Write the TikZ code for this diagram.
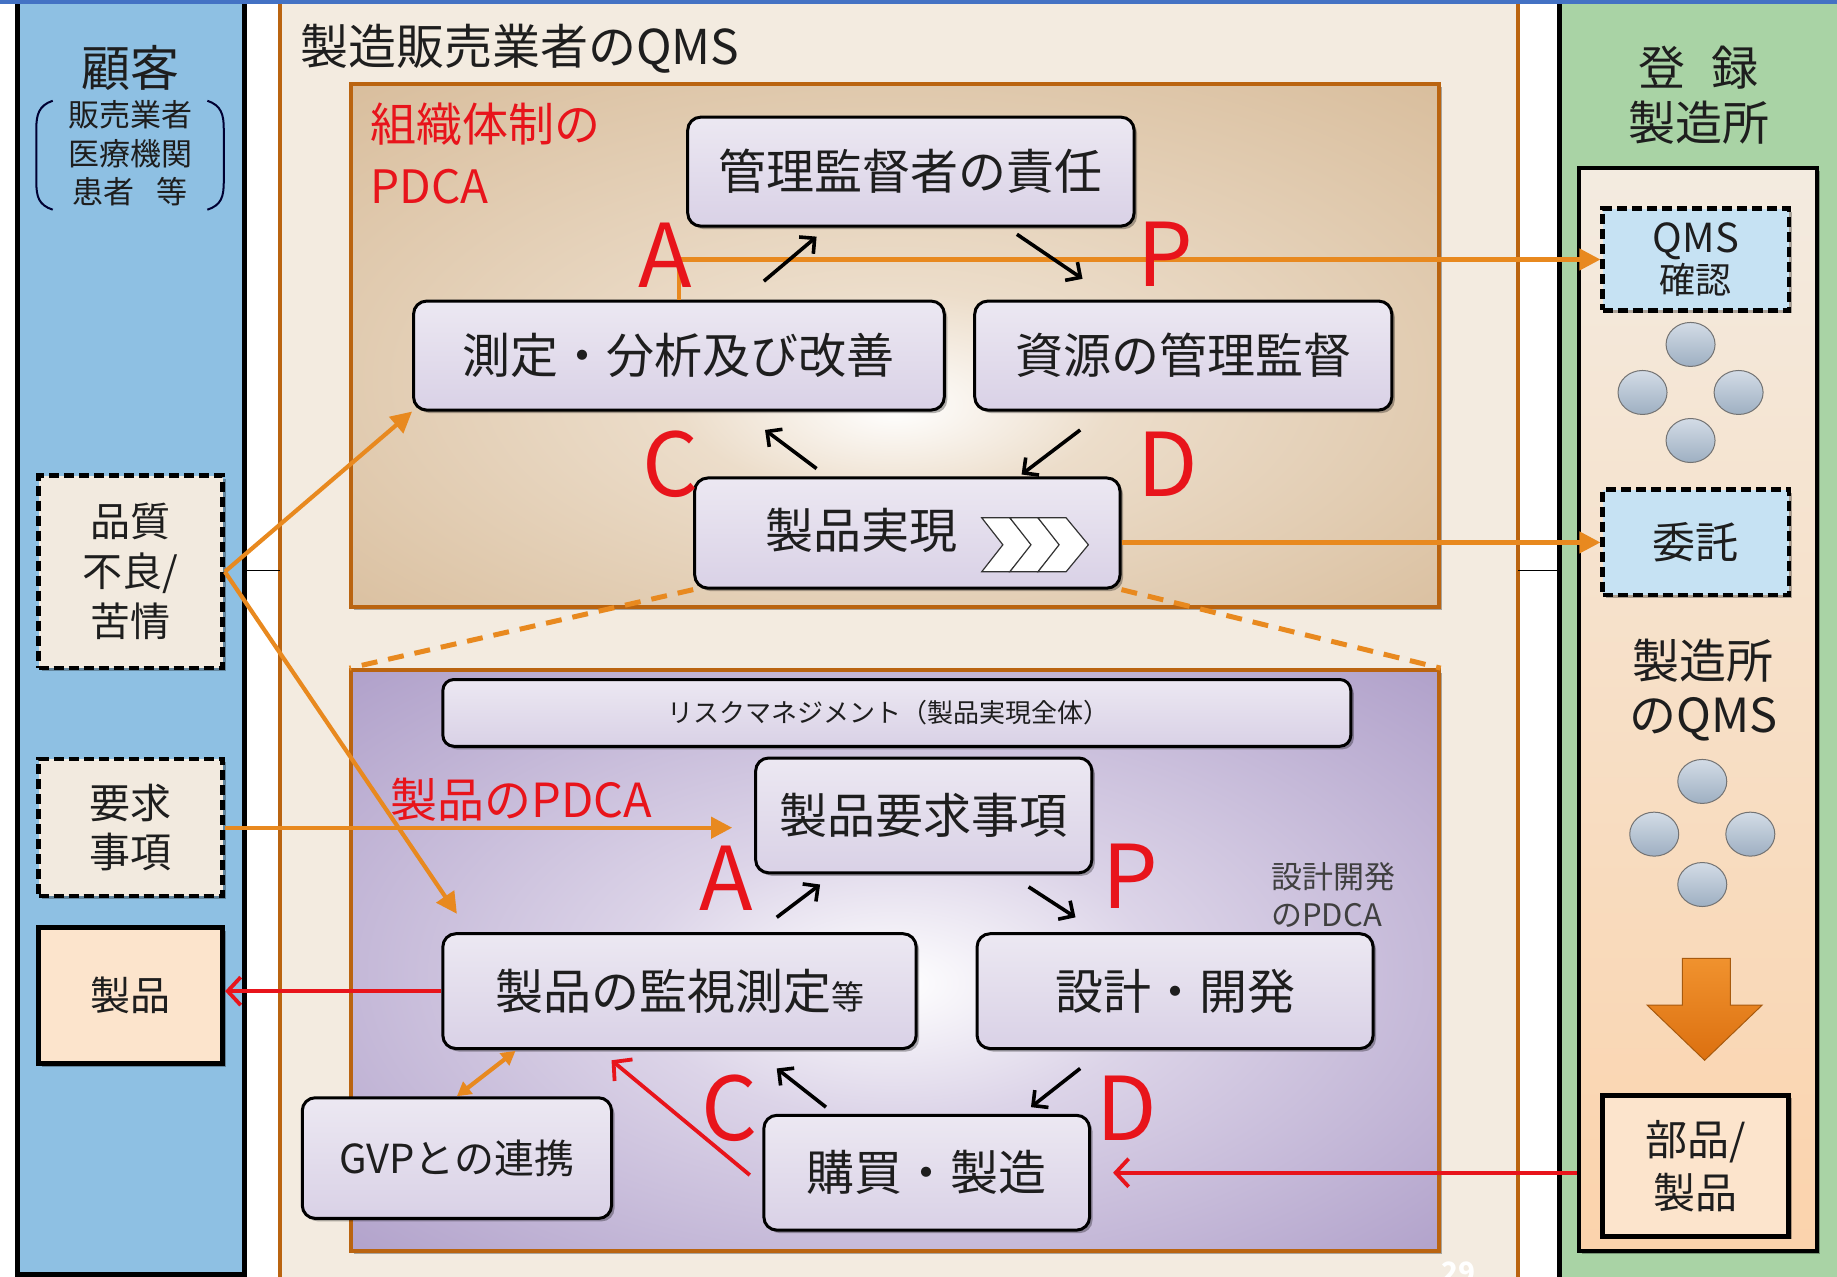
\documentclass[tikz,border=0pt]{standalone}
\usepackage{fontspec}
\setmainfont{Noto Sans CJK JP}
\usetikzlibrary{arrows.meta,fit,shadows,shapes.geometric,calc}

\definecolor{topbar}{HTML}{4472C4}
\definecolor{custblue}{HTML}{8EC0E3}
\definecolor{mfrfill}{HTML}{F3EBE0}
\definecolor{orB}{HTML}{BA6410}
\definecolor{tanc}{HTML}{CFAE86}
\definecolor{tanmid}{HTML}{ECDDCA}
\definecolor{purc}{HTML}{9682B8}
\definecolor{purmid}{HTML}{DCD4E8}
\definecolor{greenc}{HTML}{A9D3A5}
\definecolor{lblue}{HTML}{C6E2F3}
\definecolor{cream}{HTML}{F2EADF}
\definecolor{peach}{HTML}{FCE4CC}
\definecolor{arrowor}{HTML}{E8891F}
\definecolor{redc}{HTML}{E8141B}
\definecolor{boxtop}{HTML}{ECE8F2}
\definecolor{boxbot}{HTML}{D9D1E6}
\definecolor{txt}{HTML}{1E1E1E}
\definecolor{circtop}{HTML}{D3DCE6}
\definecolor{circbot}{HTML}{9EAFC2}
\definecolor{rbtop}{HTML}{F3EBE0}
\definecolor{rbbot}{HTML}{FBD3AC}
\definecolor{bigartop}{HTML}{F0922E}
\definecolor{bigarbot}{HTML}{DC7010}

\pgfdeclareradialshading{tanrad}{\pgfpoint{0bp}{-6bp}}{color(0bp)=(white); color(10bp)=(tanmid); color(50bp)=(tanc)}
\pgfdeclareradialshading{purrad}{\pgfpoint{0bp}{-2bp}}{color(0bp)=(white); color(12bp)=(purmid); color(50bp)=(purc)}

\begin{document}
\begin{tikzpicture}[x=1.1716pt,y=-1.1716pt,
  shad/.style={drop shadow={shadow xshift=3pt, shadow yshift=-3pt, opacity=0.3, fill=black}},
  pbox/.style={draw=black, line width=3pt, rounded corners=13pt, top color=boxtop, bottom color=boxbot, inner sep=0pt, shad},
  dbox/.style={draw=black, line width=4.5pt, dash pattern=on 10pt off 5pt, inner sep=0pt, shad},
  sbox/.style={draw=black, line width=5pt, fill=peach, inner sep=0pt, shad},
  oarrow/.style={draw=arrowor, line width=4.2pt, -{Triangle[length=21pt,width=21pt]}},
  orarrow2/.style={draw=arrowor, line width=4.2pt, {Triangle[length=14pt,width=15pt]}-{Triangle[length=14pt,width=15pt]}},
  rarrow/.style={draw=redc, line width=3.8pt, -{Straight Barb[length=13pt,width=28pt]}},
  barrow/.style={draw=black, line width=3.6pt, -{Straight Barb[length=11pt,width=22pt]}},
  letter/.style={text=redc, inner sep=0pt, font=\fontsize{88}{88}\selectfont},
  circ/.style={ellipse, draw=black!55, line width=1pt, top color=circtop, bottom color=circbot, minimum width=49pt, minimum height=44pt, inner sep=0pt},
  odash/.style={draw=arrowor, line width=5pt, dash pattern=on 16pt off 11pt},
  lbl/.style={text=txt, inner sep=0pt, align=center},
]
\useasboundingbox (0,0) rectangle (1568,1090);
\fill[white] (0,0) rectangle (1568,1090);

% ---------- panels ----------
\draw[line width=5pt, fill=custblue] (15,-10) rectangle (209,1087.5);
\draw[orB, line width=4pt, fill=mfrfill] (239,-10) rectangle (1296,1110);
\draw[line width=5pt, fill=greenc] (1331,-10) rectangle (1620,1110);
\node[draw=black, line width=4pt, top color=rbtop, bottom color=rbbot, inner sep=0pt, fit={(1348,143) (1551,1068)}, shad] (rbox) {};

% thin black links between panels
\draw[line width=1.5pt] (209,487) -- (239,487);
\draw[line width=1.5pt] (1296,487) -- (1331,487);

% ---------- big PDCA boxes ----------
\node[draw=orB, line width=4pt, shading=tanrad, inner sep=0pt, fit={(300,72) (1228,518)}, shad] (org) {};
\node[draw=orB, line width=4pt, shading=purrad, inner sep=0pt, fit={(300,572) (1228,1068)}, shad] (pbx) {};

% ---------- titles ----------
\node[lbl, font=\fontsize{49}{55}\selectfont] (kokyaku) at (111,58) {顧客};
\node[lbl, font=\fontsize{31}{38.5}\selectfont] (kokyaku2) at (111,131) {販売業者\\医療機関\\患者\hspace{0.7em}等};
\draw[line width=2pt, black!80!blue] (45,86) .. controls (33,90) and (31,98) .. (31,110) -- (31,155) .. controls (31,168) and (33,175) .. (45,179);
\draw[line width=2pt, black!80!blue] (177,86) .. controls (189,90) and (191,98) .. (191,110) -- (191,155) .. controls (191,168) and (189,175) .. (177,179);

\node[lbl, anchor=west, font=\fontsize{48}{48}\selectfont] (mfrtitle) at (256,42) {製造販売業者のQMS};
\node[lbl, font=\fontsize{47}{55}\selectfont] (toroku) at (1450,81.5) {登\hspace{0.55em}録\\製造所};
\node[lbl, font=\fontsize{47}{54}\selectfont] (mfgqms) at (1454,589) {製造所\\のQMS};

\node[text=redc, anchor=west, align=left, inner sep=0pt, font=\fontsize{46}{62}\selectfont] (orgtitle) at (316,131) {組織体制の\\PDCA};
\node[text=redc, anchor=west, inner sep=0pt, font=\fontsize{47}{47}\selectfont] (prodtitle) at (333,683) {製品のPDCA};
\node[text=txt!85, anchor=west, align=left, inner sep=0pt, font=\fontsize{31}{37.5}\selectfont] (devtitle) at (1085,764) {設計開発\\のPDCA};

% ---------- left nodes ----------
\node[dbox, fill=cream, fit={(33,406) (190,570)}] (qual) {};
\node[lbl, font=\fontsize{40}{50}\selectfont] (qual-t) at (qual.center) {品質\\不良/\\苦情};
\node[dbox, fill=cream, fit={(33,648) (190,765)}] (req) {};
\node[lbl, font=\fontsize{41}{49}\selectfont] (req-t) at (req.center) {要求\\事項};
\node[sbox, fit={(33,792) (190,908)}] (prod) {};
\node[lbl, font=\fontsize{40}{40}\selectfont] (prod-t) at (prod.center) {製品};

% ---------- right nodes ----------
\node[dbox, fill=lblue, fit={(1368,178) (1527,265)}] (qms) {};
\node[lbl, font=\fontsize{36}{41}\selectfont] (qms-t) at (qms.center) {{\fontsize{40}{41}\selectfont QMS}\\確認};
\node[dbox, fill=lblue, fit={(1368,418) (1527,508)}] (itaku) {};
\node[lbl, font=\fontsize{43}{43}\selectfont] (itaku-t) at (itaku.center) {委託};
\node[sbox, fit={(1368,935) (1527,1055)}] (parts) {};
\node[lbl, font=\fontsize{42}{53}\selectfont] (parts-t) at (parts.center) {部品/\\製品};

\node[circ] (c1) at (1443,294) {};
\node[circ] (c2) at (1402,335) {};
\node[circ] (c3) at (1484,335) {};
\node[circ] (c4) at (1443,376) {};
\node[circ] (c5) at (1453,667) {};
\node[circ] (c6) at (1412,712) {};
\node[circ] (c7) at (1494,712) {};
\node[circ] (c8) at (1453,755) {};

\draw[draw=orB!90!black, line width=1pt, top color=bigartop, bottom color=bigarbot]
  (1436,818) -- (1477,818) -- (1477,858) -- (1504,858) -- (1455,905) -- (1406,858) -- (1436,858) -- cycle;

% ---------- org PDCA nodes ----------
\node[pbox, fit={(587,100) (968,193)}] (mgmt) {};
\node[lbl, font=\fontsize{48}{48}\selectfont] (mgmt-t) at (mgmt.center) {管理監督者の責任};
\node[pbox, fit={(353,257) (806,350)}] (meas) {};
\node[lbl, font=\fontsize{48}{48}\selectfont] (meas-t) at (meas.center) {測定・分析及び改善};
\node[pbox, fit={(832,257) (1188,350)}] (res) {};
\node[lbl, font=\fontsize{48}{48}\selectfont] (res-t) at (res.center) {資源の管理監督};
\node[pbox, fit={(593,408) (956,502)}] (real) {};
\node[lbl, font=\fontsize{48}{48}\selectfont] (real-t) at (735,453) {製品実現};
\foreach \i in {0,1,2} {
  \draw[black!80, line width=1.2pt, fill=white]
    ({838+24*\i},442) -- ({862+24*\i},442) -- ({881+24*\i},465) -- ({862+24*\i},488) -- ({838+24*\i},488) -- ({856+24*\i},465) -- cycle;
}

% ---------- product PDCA nodes ----------
\node[pbox, rounded corners=11pt, fit={(378,580) (1153,637)}] (risk) {};
\node[lbl, font=\fontsize{26}{26}\selectfont] (risk-t) at ([xshift=-8pt]risk.center) {リスクマネジメント（製品実現全体）};
\node[pbox, fit={(645,647) (932,745)}] (preq) {};
\node[lbl, font=\fontsize{48}{48}\selectfont] (preq-t) at (preq.center) {製品要求事項};
\node[pbox, fit={(378,797) (782,895)}] (mon) {};
\node[lbl, font=\fontsize{48}{48}\selectfont] (mon-t) at (mon.center) {製品の監視測定{\fontsize{33}{33}\selectfont 等}};
\node[pbox, fit={(834,797) (1172,895)}] (dev) {};
\node[lbl, font=\fontsize{48}{48}\selectfont] (dev-t) at (dev.center) {設計・開発};
\node[pbox, fit={(652,952) (930,1050)}] (buy) {};
\node[lbl, font=\fontsize{48}{48}\selectfont] (buy-t) at (buy.center) {購買・製造};
\node[pbox, fit={(258,937) (522,1040)}] (gvp) {};
\node[lbl, font=\fontsize{40}{40}\selectfont] (gvp-t) at (gvp.center) {GVPとの連携};

% ---------- dashed zoom lines ----------
\draw[odash] (real.south west) -- (pbx.north west);
\draw[odash] (real.south east) -- (pbx.north east);

% ---------- orange arrows ----------
\coordinate (monin) at (390,780);
\coordinate (monb) at (440,897);
\draw[oarrow] (qual.east) -- (meas.south west);
\draw[oarrow] (qual.east) -- (monin);
\draw[oarrow, shorten >=22pt] (req.east) -- (req.east -| preq.west);
\draw[oarrow] (meas.north) |- (qms.west);
\draw[oarrow] (real.east |- itaku.west) -- (itaku.west);
\draw[orarrow2] (gvp.north) -- (monb);

% ---------- red arrows ----------
\coordinate (r1s) at (640,1003);
\coordinate (r1e) at (522,905);
\draw[rarrow] (rbox.west |- buy.east) -- ([xshift=22pt]buy.east);
\draw[rarrow] (mon.west) -- (mon.west -| prod.east);
\draw[rarrow] (r1s) -- (r1e);

% ---------- cycle arrows ----------
\coordinate (a1s) at (652,240); \coordinate (a1e) at (697,202);
\coordinate (p1s) at (868,200); \coordinate (p1e) at (924,238);
\coordinate (d1s) at (922,367); \coordinate (d1e) at (872,405);
\coordinate (k1s) at (697,400); \coordinate (k1e) at (653,367);
\coordinate (a2s) at (663,783); \coordinate (a2e) at (700,755);
\coordinate (p2s) at (878,757); \coordinate (p2e) at (918,783);
\coordinate (d2s) at (922,912); \coordinate (d2e) at (880,945);
\coordinate (k2s) at (705,945); \coordinate (k2e) at (663,912);
\foreach \s/\e in {a1s/a1e,p1s/p1e,d1s/d1e,k1s/k1e,a2s/a2e,p2s/p2e,d2s/d2e,k2s/k2e}
  \draw[barrow] (\s) -- (\e);

% ---------- PDCA letters ----------
\node[letter] (A1) at (568,218) {A};
\node[letter] (P1) at (995,217) {P};
\node[letter] (C1) at (572,396) {C};
\node[letter] (D1) at (997,396) {D};
\node[letter] (A2) at (620,750) {A};
\node[letter] (P2) at (965,748) {P};
\node[letter] (C2) at (623,946) {C};
\node[letter] (D2) at (962,946) {D};

% page number (cut off at the lower edge, as in the source)
\node[text=white, inner sep=0pt, font=\bfseries\fontsize{28}{28}\selectfont] (pg) at (1245,1086) {29};

% top bar
\fill[topbar] (0,0) rectangle (1568,3.5);
\end{tikzpicture}
\end{document}
